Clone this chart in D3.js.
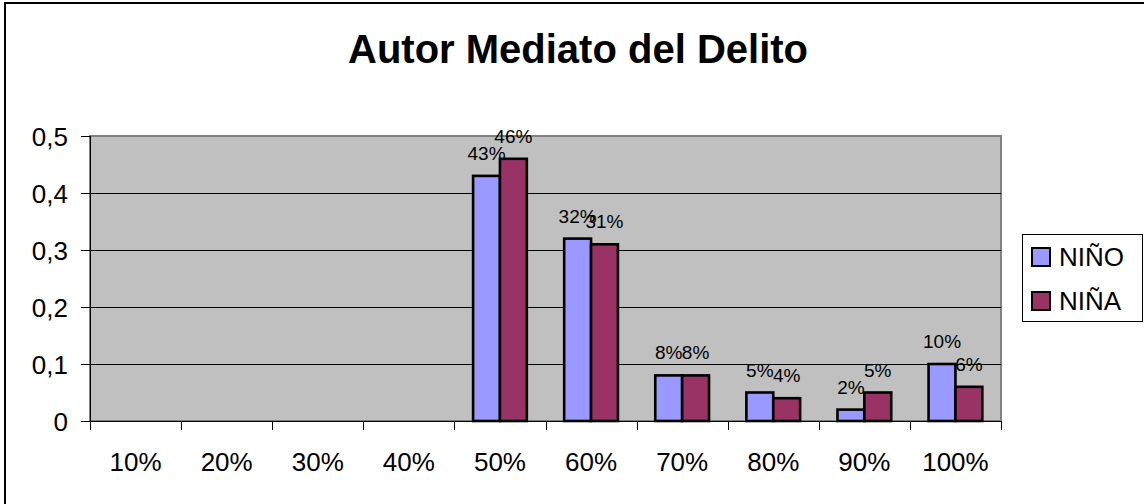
<!DOCTYPE html>
<html lang="es">
<head>
<meta charset="utf-8">
<title>Autor Mediato del Delito</title>
<script src="https://d3js.org/d3.v7.min.js"></script>
<style>
  body { margin: 0; background: #fff; }
  svg text { font-family: Arial, "Liberation Sans", sans-serif; fill: #000; }
  .axis path, .axis line { stroke: #000; stroke-width: 1; shape-rendering: crispEdges; }
</style>
</head>
<body>
<script>
// categorias y series
var categories = ["10%", "20%", "30%", "40%", "50%", "60%", "70%", "80%", "90%", "100%"];
var seriesNames = ["NIÑO", "NIÑA"];
var nino = [null, null, null, null, 0.43, 0.32, 0.08, 0.05, 0.02, 0.10];
var nina = [null, null, null, null, 0.46, 0.31, 0.08, 0.04, 0.05, 0.06];
var yTicks = [0, 0.1, 0.2, 0.3, 0.4, 0.5];
var yTickLabels = ["0", "0,1", "0,2", "0,3", "0,4", "0,5"];
var colors = ["#9999FF", "#993366"];

var W = 1144, H = 504;
var pLeft = 90, pRight = 1001, pTop = 136, pBottom = 421;

var svg = d3.select("body").append("svg").attr("width", W).attr("height", H);

// marco exterior
svg.append("rect")
  .attr("x", 5).attr("y", 3).attr("width", W + 20).attr("height", H + 20)
  .attr("fill", "#fff").attr("stroke", "#000").attr("stroke-width", 2);

svg.append("text")
  .attr("x", 578).attr("y", 63)
  .attr("text-anchor", "middle")
  .style("font-size", "40px").style("font-weight", "bold")
  .text("Autor Mediato del Delito");

var x = d3.scaleBand().domain(categories).range([pLeft, pRight]).padding(0);
var xs = d3.scaleBand().domain(seriesNames)
  .range([x.bandwidth() * 0.205, x.bandwidth() * 0.795]).padding(0);
var y = d3.scaleLinear().domain([0, 0.5]).range([pBottom, pTop]);

// area de trazado
svg.append("rect")
  .attr("x", pLeft).attr("y", pTop)
  .attr("width", pRight - pLeft).attr("height", pBottom - pTop)
  .attr("fill", "#C0C0C0").attr("stroke", "#808080").attr("stroke-width", 2);

svg.append("g").selectAll("line")
  .data(yTicks.filter(function(d) { return d > 0 && d < 0.5; }))
  .join("line")
  .attr("x1", pLeft).attr("x2", pRight)
  .attr("y1", function(d) { return Math.round(y(d)) + 0.5; })
  .attr("y2", function(d) { return Math.round(y(d)) + 0.5; })
  .attr("stroke", "#000").attr("stroke-width", 1);

// eje y
var yAxis = d3.axisLeft(y).tickValues(yTicks).tickSize(9).tickPadding(13)
  .tickFormat(function(d, i) { return yTickLabels[i]; });
svg.append("g").attr("class", "axis")
  .attr("transform", "translate(" + pLeft + ",0)")
  .call(yAxis)
  .call(function(g) { g.select(".domain").attr("d", "M0," + pTop + "V" + pBottom); })
  .selectAll("text").style("font-size", "26px").attr("dy", "0.36em");

// barras
var rows = categories.map(function(c, i) {
  return { cat: c, vals: [nino[i], nina[i]] };
});

var groups = svg.append("g").selectAll("g")
  .data(rows).join("g")
  .attr("transform", function(d) { return "translate(" + x(d.cat) + ",0)"; });

function barData(d) {
  return d.vals.map(function(v, j) { return { key: seriesNames[j], v: v, j: j }; })
    .filter(function(e) { return e.v !== null; });
}

groups.selectAll("rect")
  .data(barData)
  .join("rect")
  .attr("x", function(d) { return xs(d.key); })
  .attr("y", function(d) { return y(d.v); })
  .attr("width", xs.bandwidth())
  .attr("height", function(d) { return y(0) - y(d.v); })
  .attr("fill", function(d) { return colors[d.j]; })
  .attr("stroke", "#000").attr("stroke-width", 2.6);

groups.selectAll("text")
  .data(barData)
  .join("text")
  .attr("x", function(d) { return xs(d.key) + xs.bandwidth() / 2; })
  .attr("y", function(d) { return y(d.v) - 16; })
  .attr("text-anchor", "middle")
  .style("font-size", "19px")
  .text(function(d) { return Math.round(d.v * 100) + "%"; });

// eje x
var xAxis = d3.axisBottom(x).tickSize(0).tickPadding(0);
var gx = svg.append("g").attr("class", "axis")
  .attr("transform", "translate(0," + pBottom + ")")
  .call(xAxis);
gx.select(".domain").attr("d", "M" + pLeft + ",0H" + pRight);
gx.selectAll("text").style("font-size", "26px").attr("y", 50).attr("dy", 0);
gx.selectAll(".sep")
  .data(d3.range(categories.length + 1)).join("line")
  .attr("class", "sep")
  .attr("x1", function(i) { return Math.round(pLeft + i * x.step()) + 0.5; })
  .attr("x2", function(i) { return Math.round(pLeft + i * x.step()) + 0.5; })
  .attr("y1", 0).attr("y2", 9);

// leyenda
var leg = svg.append("g");
leg.append("rect")
  .attr("x", 1022.5).attr("y", 234.5).attr("width", 120).attr("height", 87)
  .attr("fill", "#fff").attr("stroke", "#000").attr("stroke-width", 1);
var li = leg.selectAll("g.item").data(seriesNames).join("g")
  .attr("class", "item")
  .attr("transform", function(d, i) { return "translate(0," + (257 + i * 44) + ")"; });
li.append("rect")
  .attr("x", 1032).attr("y", -9).attr("width", 18).attr("height", 18)
  .attr("fill", function(d, i) { return colors[i]; })
  .attr("stroke", "#000").attr("stroke-width", 2);
li.append("text")
  .attr("x", 1059).attr("y", 0).attr("dy", "0.36em")
  .style("font-size", "26px")
  .text(function(d) { return d; });
</script>
</body>
</html>
